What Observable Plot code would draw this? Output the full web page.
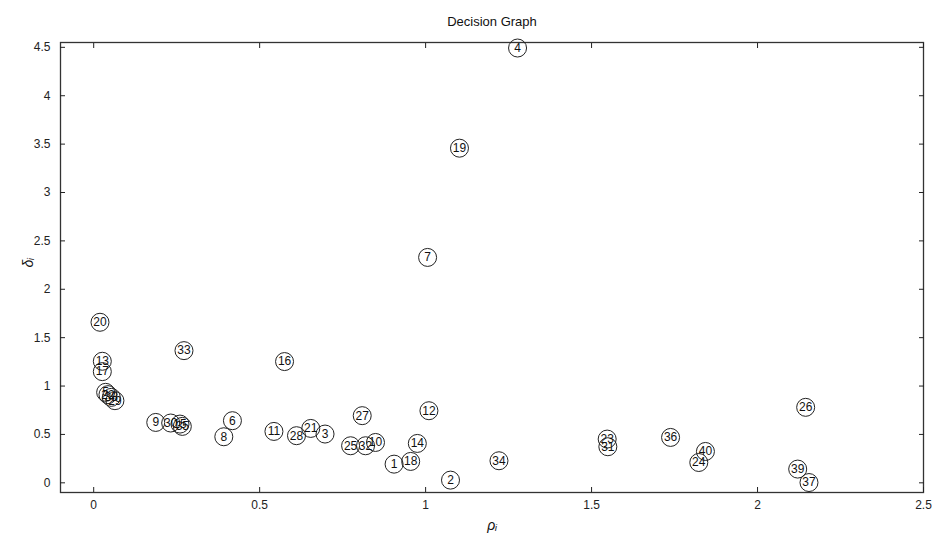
<!DOCTYPE html>
<html>
<head>
<meta charset="utf-8">
<script src="https://cdn.jsdelivr.net/npm/d3@7"></script>
<script src="https://cdn.jsdelivr.net/npm/@observablehq/plot@0.6"></script>
<style>
  html, body { margin: 0; padding: 0; background: #fff; }
  #chart svg { display: block; font-family: "Liberation Sans Narrow", "Liberation Sans", Arial, sans-serif; }
</style>
</head>
<body>
<div id="chart"></div>
<script>
// Point labels, local density rho_i, and distance delta_i
const labels = [4, 19, 7, 20, 33, 16, 13, 17, 5, 22, 38, 29, 9, 30, 15, 35, 6, 8, 11, 28, 21, 3, 27, 12, 25, 32, 10, 14, 1, 18, 2, 34, 26, 23, 31, 36, 40, 24, 39, 37];
const rho = [1.277, 1.102, 1.006, 0.019, 0.272, 0.575, 0.026, 0.026, 0.036, 0.043, 0.053, 0.064, 0.187, 0.232, 0.260, 0.267, 0.418, 0.392, 0.543, 0.611, 0.654, 0.697, 0.809, 1.010, 0.774, 0.819, 0.849, 0.975, 0.905, 0.955, 1.075, 1.221, 2.145, 1.547, 1.549, 1.738, 1.843, 1.823, 2.121, 2.155];
const delta = [4.493, 3.458, 2.329, 1.659, 1.366, 1.253, 1.256, 1.149, 0.935, 0.911, 0.883, 0.849, 0.624, 0.618, 0.607, 0.583, 0.642, 0.476, 0.531, 0.487, 0.562, 0.504, 0.694, 0.745, 0.383, 0.383, 0.417, 0.407, 0.193, 0.221, 0.028, 0.228, 0.780, 0.452, 0.373, 0.469, 0.324, 0.210, 0.142, 0.003];
const xTicks = [0, 0.5, 1, 1.5, 2, 2.5];
const yTicks = [0, 0.5, 1, 1.5, 2, 2.5, 3, 3.5, 4, 4.5];
const titleText = "Decision Graph";
const xLabel = "\u03C1\u1D62";
const yLabel = "\u03B4\u1D62";

const data = labels.map((l, i) => ({label: String(l), rho: rho[i], delta: delta[i]}));

const chart = Plot.plot({
  width: 935,
  height: 536,
  marginLeft: 60,
  marginRight: 12,
  marginTop: 42,
  marginBottom: 44,
  style: {fontSize: "12px", color: "#222", background: "#fff"},
  x: {domain: [-0.1, 2.5]},
  y: {domain: [-0.1, 4.55]},
  marks: [
    Plot.frame({stroke: "#333", strokeWidth: 1.3}),
    Plot.axisX({ticks: xTicks, tickSize: -5, tickPadding: 13, tickFormat: d => String(d), label: null, fontSize: 12}),
    Plot.axisX({anchor: "top", ticks: xTicks, tickSize: -5, tickFormat: () => "", label: null}),
    Plot.axisY({ticks: yTicks, tickSize: -5, tickPadding: 15, tickFormat: d => String(d), label: null, fontSize: 12}),
    Plot.axisY({anchor: "right", ticks: yTicks, tickSize: -5, tickFormat: () => "", label: null}),
    Plot.dot(data, {x: "rho", y: "delta", r: 9, stroke: "#222", strokeWidth: 1, fill: "none"}),
    Plot.text(data, {x: "rho", y: "delta", text: "label", fontSize: 12, fill: "#111"}),
    Plot.text([titleText], {frameAnchor: "top", dy: -26, text: d => d, fontSize: 13, fill: "#111"}),
    Plot.text([xLabel], {frameAnchor: "bottom", dy: 37, text: d => d, fontSize: 14, fill: "#111", fontStyle: "italic"}),
    Plot.text([yLabel], {frameAnchor: "left", dx: -32, rotate: -90, text: d => d, fontSize: 14, fill: "#111", fontStyle: "italic"})
  ]
});
document.getElementById("chart").append(chart);
</script>
</body>
</html>
